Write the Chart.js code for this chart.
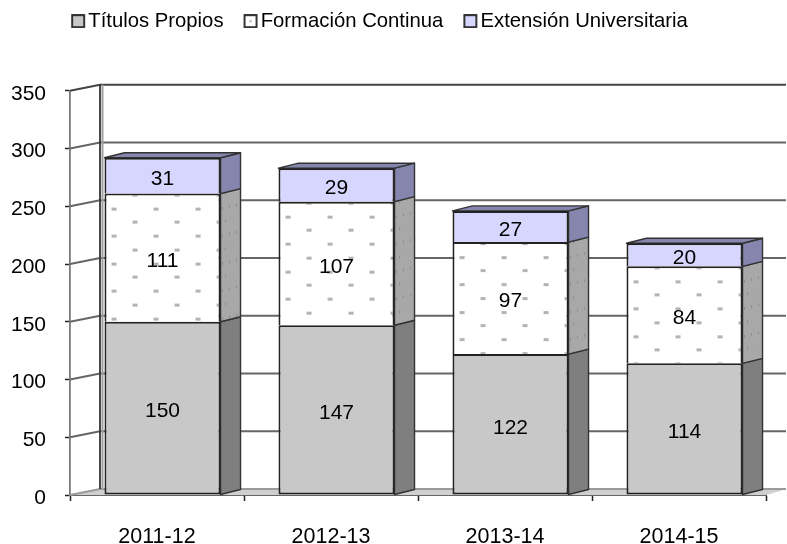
<!DOCTYPE html>
<html><head><meta charset="utf-8">
<style>html,body{margin:0;padding:0;background:#fff}#w{width:787px;height:544px}canvas{filter:blur(0.4px)}</style>
<script src="https://cdn.jsdelivr.net/npm/chart.js@4"></script></head>
<body><div id="w"><canvas id="c"></canvas></div>
<script>
const categories = ['2011-12','2012-13','2013-14','2014-15'];
const titulosPropios = [150,147,122,114];
const formacionContinua = [111,107,97,84];
const extensionUniversitaria = [31,29,27,20];
const seriesNames = ['Títulos Propios','Formación Continua','Extensión Universitaria'];
const yTickMax = 350, yTickStep = 50;

const FONT = '"Liberation Sans", Arial, sans-serif';
const INK = '#222222';
const WALL = {dx:30, dy:-6, right:786};
const BAR = {dx:20, dy:-5, shift:5.5};
const sideColors = ['#7f7f7f', null, '#8585ad'];
const topColor = '#8585ad';

function dotTile(bg, dot){
  const t = document.createElement('canvas'); t.width = 42; t.height = 55;
  const g = t.getContext('2d'); g.fillStyle = bg; g.fillRect(0,0,42,55);
  g.fillStyle = dot;
  [[28,0],[7,14],[28,27],[7,41]].forEach(p => g.fillRect(p[0],p[1],5,3));
  return t;
}
const frontTile = dotTile('#ffffff','#b4b4b4');
const sideTile = dotTile('#a8a8a8','#8e8e8e');

function frontPattern(ctx){
  const chart = ctx.chart;
  const g = chart.ctx;
  const p = g.createPattern(frontTile,'repeat');
  if (ctx.dataIndex === undefined || !chart.scales.x) return '#fff';
  const i = ctx.dataIndex;
  const slot = chart.scales.x.width / categories.length;
  const left = chart.scales.x.getPixelForValue(i) - slot/3;
  const top = chart.scales.y.getPixelForValue(titulosPropios[i] + formacionContinua[i]);
  p.setTransform(new DOMMatrix().translate(left, top));
  return p;
}
function legendIcon(fill, dotted){
  const t = document.createElement('canvas'); t.width = 21; t.height = 14;
  const g = t.getContext('2d');
  g.fillStyle = fill; g.fillRect(6,1,12,12);
  if (dotted){ g.fillStyle = '#b0b0b0'; g.fillRect(11,6,2,2); }
  g.strokeStyle = INK; g.lineWidth = 1.8; g.strokeRect(6,1,12,12);
  return t;
}
const legendIcons = [legendIcon('#c8c8c8'), legendIcon('#ffffff',true), legendIcon('#d6d6ff')];

const scene = {
  id:'scene',
  beforeDraw(chart){
    const l = chart.legend;
    l.left = -12; l.right = 787-12; l.top = -13;
  },
  beforeDatasetsDraw(chart){
    const g = chart.ctx, y = chart.scales.y, a = chart.chartArea;
    g.save();
    g.fillStyle = '#cfcfcf';
    g.beginPath();
    g.moveTo(a.left, a.bottom); g.lineTo(a.left+WALL.dx, a.bottom+WALL.dy);
    g.lineTo(WALL.right+1, a.bottom+WALL.dy); g.lineTo(a.right, a.bottom); g.closePath(); g.fill();
    y.ticks.forEach(t => {
      const py = y.getPixelForValue(t.value);
      g.strokeStyle = t.value === 0 ? '#9a9a9a' : (t.value === yTickMax ? '#444' : '#666');
      g.lineWidth = 2;
      g.beginPath();
      g.moveTo(a.left, py); g.lineTo(a.left+WALL.dx, py+WALL.dy);
      g.lineTo(WALL.right, py+WALL.dy); g.stroke();
    });
    const topY = y.getPixelForValue(yTickMax), botY = y.getPixelForValue(0);
    g.strokeStyle = '#a0a0a0'; g.lineWidth = 2;
    g.beginPath(); g.moveTo(a.left+WALL.dx+2.5, topY+WALL.dy); g.lineTo(a.left+WALL.dx+2.5, botY+WALL.dy); g.stroke();
    g.strokeStyle = '#333'; g.lineWidth = 1.8;
    g.beginPath(); g.moveTo(a.left+WALL.dx, topY+WALL.dy); g.lineTo(a.left+WALL.dx, botY+WALL.dy); g.stroke();
    g.restore();

    g.save();
    g.translate(BAR.shift, 0);
    const n = chart.data.datasets.length;
    for (let d = 0; d < n; d++){
      chart.getDatasetMeta(d).data.forEach(b => {
        const r = b.x + b.width/2, l = b.x - b.width/2;
        if (sideColors[d]) g.fillStyle = sideColors[d];
        else {
          const p = g.createPattern(sideTile,'repeat');
          p.setTransform(new DOMMatrix([BAR.dx/b.width, BAR.dy/b.width, 0, 1, r, b.y]));
          g.fillStyle = p;
        }
        g.strokeStyle = '#333'; g.lineWidth = 1.4; g.lineJoin = 'round';
        g.beginPath();
        g.moveTo(r,b.y); g.lineTo(r+BAR.dx,b.y+BAR.dy); g.lineTo(r+BAR.dx,b.base+BAR.dy); g.lineTo(r,b.base); g.closePath();
        g.fill(); g.stroke();
        if (d === n-1){
          g.fillStyle = topColor;
          g.beginPath();
          g.moveTo(l,b.y); g.lineTo(l+BAR.dx,b.y+BAR.dy); g.lineTo(r+BAR.dx,b.y+BAR.dy); g.lineTo(r,b.y); g.closePath();
          g.fill(); g.stroke();
        }
      });
    }
  },
  afterDatasetsDraw(chart){
    const g = chart.ctx;
    g.restore();
    g.save();
    g.fillStyle = '#000'; g.font = '21px '+FONT; g.textAlign = 'center'; g.textBaseline = 'middle';
    chart.data.datasets.forEach((ds,d) => {
      chart.getDatasetMeta(d).data.forEach((b,i) => {
        g.fillText(String(ds.data[i]), b.x+BAR.shift, (b.y+b.base)/2+3.5);
      });
    });
    g.restore();
  }
};

new Chart(document.getElementById('c'),{
  type:'bar',
  plugins:[scene],
  data:{labels:categories,datasets:[
    {label:seriesNames[0],data:titulosPropios,backgroundColor:'#c8c8c8',borderSkipped:false},
    {label:seriesNames[1],data:formacionContinua,backgroundColor:frontPattern,borderSkipped:'bottom'},
    {label:seriesNames[2],data:extensionUniversitaria,backgroundColor:'#d6d6ff',borderSkipped:'bottom'}
  ].map(d => Object.assign(d,{borderColor:INK,borderWidth:2,categoryPercentage:1,barPercentage:0.667,clip:false}))},
  options:{
    responsive:true,maintainAspectRatio:false,animation:false,
    layout:{padding:{top:36.5,right:21,bottom:0,left:0}},
    plugins:{
      tooltip:{enabled:false},
      legend:{position:'top',align:'center',labels:{
        usePointStyle:true,pointStyleWidth:3,boxHeight:10,padding:24,color:'#000',
        font:{family:FONT,size:20.3},
        generateLabels:()=>seriesNames.map((t,i)=>({text:t,pointStyle:legendIcons[i],fontColor:'#000',datasetIndex:i,lineWidth:0}))
      }}
    },
    scales:{
      x:{stacked:true,
        grid:{drawOnChartArea:false,drawTicks:true,tickLength:6,tickColor:'#222',tickWidth:1.5},
        border:{color:'#333',width:1.8},
        ticks:{color:'#000',font:{family:FONT,size:21.5},padding:23,maxRotation:0},
        afterFit(s){s.height=49}},
      y:{stacked:true,min:0,max:yTickMax,
        grid:{drawOnChartArea:false,tickLength:5,tickColor:'#222',tickWidth:1.5},
        border:{color:'#7a7a7a',width:1.8},
        ticks:{stepSize:yTickStep,color:'#000',font:{family:FONT,size:21},padding:19,labelOffset:3},
        afterFit(s){s.width=70}}
    }
  }
});
</script></body></html>
